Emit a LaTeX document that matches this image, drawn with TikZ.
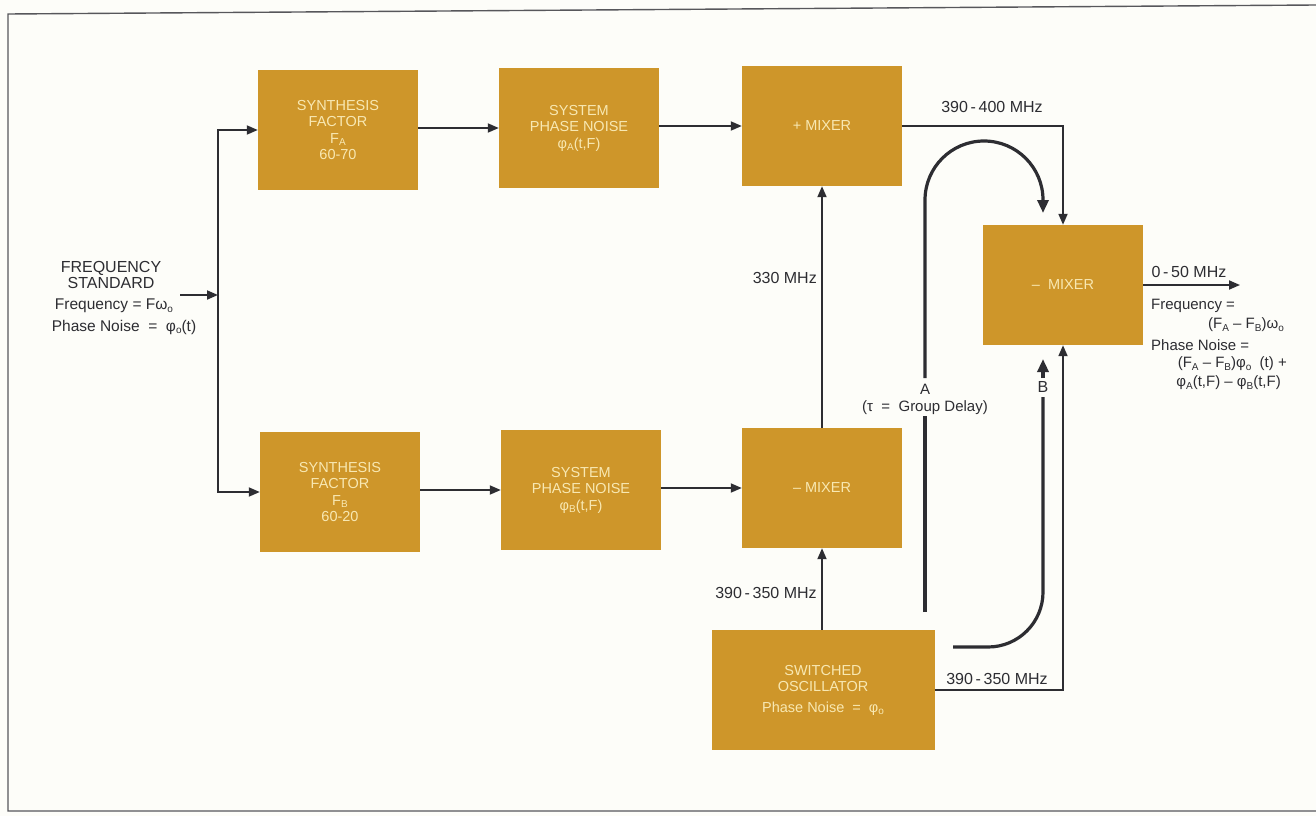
\documentclass[tikz,border=0pt]{standalone}
\usepackage{fontspec}
\setmainfont{Liberation Sans}
\usetikzlibrary{arrows.meta}
\definecolor{bg}{RGB}{253,253,249}
\definecolor{gold}{RGB}{206,150,42}
\definecolor{cream}{RGB}{248,232,178}
\definecolor{ink}{RGB}{45,45,50}
\newcommand{\lowsub}[1]{\raisebox{-0.35ex}{\fontsize{10}{10}\selectfont #1}}
\newcommand{\eqs}{\ \ =\ \ }
\tikzset{
  blk/.style={fill=gold, draw=none, minimum width=160pt, minimum height=120pt, inner sep=0pt,
    text=cream, align=center, font=\fontsize{14.5}{16.5}\selectfont},
  lbl/.style={text=ink, font=\fontsize{16}{18}\selectfont, inner sep=1pt},
  sml/.style={text=ink, font=\fontsize{15}{19}\selectfont, inner sep=1pt},
  arr/.style={draw=ink, line width=1.8pt, -{Triangle[length=11pt,width=9pt]}},
  thk/.style={draw=ink, line width=3.2pt},
  thkarr/.style={draw=ink, line width=3.2pt, -{Triangle[length=13pt,width=11pt]}}
}
\begin{document}
\begin{tikzpicture}[x=1pt,y=-1pt]
\fill[bg] (0,0) rectangle (1316,816);
\useasboundingbox (0,0) rectangle (1316,816);
% frame
\draw[draw=ink!80, line width=1.4pt] (1316,5) -- (8,14) -- (8,811) -- (1316,811);

% blocks
\node[blk] (sa) at (338,130) {SYNTHESIS\\FACTOR\\F\lowsub{A}\\60-70};
\node[blk] (pa) at (579,128) {SYSTEM\\PHASE NOISE\\φ\lowsub{A}(t,F)};
\node[blk] (mp) at (822,126) {+\ MIXER};
\node[blk] (sb) at (340,492) {SYNTHESIS\\FACTOR\\F\lowsub{B}\\60-20};
\node[blk] (pb) at (581,490) {SYSTEM\\PHASE NOISE\\φ\lowsub{B}(t,F)};
\node[blk] (mb) at (822,488) {–\ MIXER};
\node[blk] (mr) at (1063,285) {–\ \ MIXER};
\node[blk, minimum width=223pt] (osc) at (823,690) {SWITCHED\\OSCILLATOR\\[4pt]Phase Noise\eqs φ\lowsub{o}};

% frequency standard
\node[lbl, align=center, font=\fontsize{16}{16.5}\selectfont] (fs) at (111,275) {FREQUENCY\\STANDARD};
\node[sml, font=\fontsize{15.5}{19}\selectfont] (fsf1) at (114,306) {Frequency\ =\ Fω\lowsub{o}};
\node[sml, font=\fontsize{15.5}{19}\selectfont] (fsf2) at (124,327) {Phase Noise\eqs φ\lowsub{o}(t)};
\coordinate (fsout) at (180,295);
\coordinate (br) at (218,295);
\draw[arr] (fsout) -- (br);
\draw[arr] (br) |- (sa.west);
\draw[arr] (br) |- (sb.west);

% chains
\draw[arr] (sa.east |- pa.west) -- (pa.west);
\draw[arr] (pa.east |- mp.west) -- (mp.west);
\draw[arr] (sb.east |- pb.west) -- (pb.west);
\draw[arr] (pb.east |- mb.west) -- (mb.west);
\draw[arr] (mb.north) -- (mp.south);
\draw[arr] (osc.north -| mb.south) -- (mb.south);
\node[lbl, anchor=east] (l330) at (818,278) {330 MHz};
\node[lbl] (l390a) at (766,593) {390\,-\,350 MHz};

\draw[arr] (mp.east) -| (mr.north);
\node[lbl] (l400) at (992,107) {390\,-\,400 MHz};
\draw[arr] (osc.east) -| (mr.south);
\node[lbl] (l390b) at (997,679) {390\,-\,350 MHz};

% loop A
\coordinate (a0) at (925,612);
\coordinate (a1) at (925,416);
\coordinate (a2) at (925,378);
\coordinate (a3) at (1043,213);
\draw[thk] (a0) -- (a1);
\draw[thkarr] (a2) -- (925,200) arc (180:360:59) -- (a3);
\node[sml, align=center, font=\fontsize{15}{17}\selectfont] (alab) at (925,399) {A\\(τ\eqs Group Delay)};

% loop B
\coordinate (b0) at (953,647);
\coordinate (b1) at (1043,397);
\coordinate (b2) at (1043,378);
\coordinate (b3) at (1043,359);
\draw[thk] (b0) -- (988,647) arc (90:0:55) -- (b1);
\draw[thkarr] (b2) -- (b3);
\node[lbl] (blab) at (1043,387) {B};

% output
\coordinate (out) at (1240,285);
\draw[arr] (mr.east) -- (out);
\node[lbl] (l050) at (1189,272) {0\,-\,50 MHz};
\node[sml, anchor=west] (of1) at (1150,306) {Frequency =};
\node[sml, anchor=east] (of2) at (1285,325) {(F\lowsub{A} – F\lowsub{B})ω\lowsub{o}};
\node[sml, anchor=west] (of3) at (1150,345) {Phase Noise =};
\node[sml, anchor=east] (of4) at (1288,364) {(F\lowsub{A} – F\lowsub{B})φ\lowsub{o}\ \ (t) +};
\node[sml, anchor=east] (of5) at (1282,383) {φ\lowsub{A}(t,F) – φ\lowsub{B}(t,F)};
\end{tikzpicture}
\end{document}
